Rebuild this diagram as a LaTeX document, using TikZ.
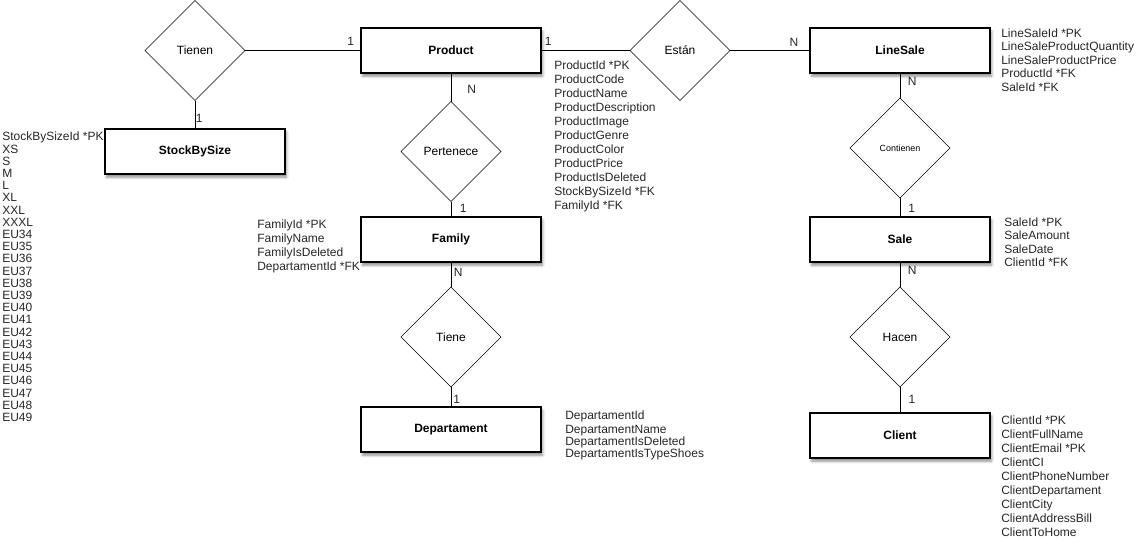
\documentclass[tikz,border=0pt]{standalone}
\usepackage{fontspec}
\setmainfont{Liberation Sans}
\usetikzlibrary{shapes.geometric,shadows.blur}

\begin{document}
\begin{tikzpicture}[x=0.75pt,y=-0.75pt,
  entity/.style={draw, line width=1pt, fill=white, minimum width=135pt,
    minimum height=33.75pt, inner sep=0pt, outer sep=0pt,
    font=\bfseries\fontsize{9}{11}\selectfont,
    blur shadow={shadow xshift=1.2pt, shadow yshift=-2.4pt,
      shadow blur radius=2pt, shadow opacity=45}},
  relation/.style={diamond, draw, line width=0.5pt, fill=white, aspect=1,
    minimum width=75pt, minimum height=75pt, inner sep=0pt, outer sep=0pt,
    font=\fontsize{9}{11}\selectfont},
  attrs/.style={anchor=north west, align=left, inner sep=0pt, text=black!85},
  link/.style={line width=0.75pt},
  card/.style={inner sep=0pt, text=black!85, font=\fontsize{9}{11}\selectfont}]

\useasboundingbox (0,0) rectangle (1141,540);

% entities
\node[entity] (product)  at (451,50.5)  {Product};
\node[entity] (stock)    at (195,151.5) {StockBySize};
\node[entity] (family)   at (451,239.5) {Family};
\node[entity] (dept)     at (451,429.5) {Departament};
\node[entity] (linesale) at (900,50.5)  {LineSale};
\node[entity] (sale)     at (900,239.5) {Sale};
\node[entity] (client)   at (900,435.5) {Client};

% relationships
\node[relation] (tienen)    at (195,50.5)  {Tienen};
\node[relation] (estan)     at (680,50.5)  {Están};
\node[relation] (pertenece) at (451,151.5) {Pertenece};
\node[relation] (tiene)     at (451,337)   {Tiene};
\node[relation, font=\fontsize{6.7}{8}\selectfont] (contienen) at (900,148) {Contienen};
\node[relation] (hacen)     at (900,337)   {Hacen};

% connectors
\draw[link] (tienen.east) -- (product.west);
\draw[link] (tienen.south) -- (stock.north);
\draw[link] (product.east) -- (estan.west);
\draw[link] (estan.east) -- (linesale.west);
\draw[link] (product.south) -- (pertenece.north);
\draw[link] (pertenece.south) -- (family.north);
\draw[link] (family.south) -- (tiene.north);
\draw[link] (tiene.south) -- (dept.north);
\draw[link] (linesale.south) -- (contienen.north);
\draw[link] (contienen.south) -- (sale.north);
\draw[link] (sale.south) -- (hacen.north);
\draw[link] (hacen.south) -- (client.north);

% cardinalities
\node[card] (c1)  at ([shift={(-10.3,-8.8)}]product.west) {1};
\node[card] (c2)  at ([shift={(4.3,-10.7)}]stock.north) {1};
\node[card] (c3)  at ([shift={(7.3,-8.8)}]product.east) {1};
\node[card] (c4)  at ([shift={(-16,-8.2)}]linesale.west) {N};
\node[card] (c5)  at ([shift={(20.7,16.3)}]product.south) {N};
\node[card] (c6)  at ([shift={(12.3,-8.7)}]family.north) {1};
\node[card] (c7)  at ([shift={(7.3,10.7)}]family.south) {N};
\node[card] (c8)  at ([shift={(5.7,-7.7)}]dept.north) {1};
\node[card] (c9)  at ([shift={(12.3,8)}]linesale.south) {N};
\node[card] (c10) at ([shift={(11.7,-8.7)}]sale.north) {1};
\node[card] (c11) at ([shift={(12.3,8.7)}]sale.south) {N};
\node[card] (c12) at ([shift={(12,-13.7)}]client.north) {1};

% attribute lists
\node[attrs, font=\fontsize{9}{10.5}\selectfont] (productattrs) at (554,61) {%
ProductId *PK\\ProductCode\\ProductName\\ProductDescription\\ProductImage\\
ProductGenre\\ProductColor\\ProductPrice\\ProductIsDeleted\\StockBySizeId *FK\\FamilyId *FK};

\node[attrs, font=\fontsize{9}{10.1}\selectfont] (linesaleattrs) at (1001,28.5) {%
LineSaleId *PK\\LineSaleProductQuantity\\LineSaleProductPrice\\ProductId *FK\\SaleId *FK};

\node[attrs, font=\fontsize{9}{10}\selectfont] (saleattrs) at (1004,217.5) {%
SaleId *PK\\SaleAmount\\SaleDate\\ClientId *FK};

\node[attrs, font=\fontsize{9}{10.5}\selectfont] (clientattrs) at (1001,415.5) {%
ClientId *PK\\ClientFullName\\ClientEmail *PK\\ClientCI\\ClientPhoneNumber\\
ClientDepartament\\ClientCity\\ClientAddressBill\\ClientToHome};

\node[attrs, font=\fontsize{9}{10.5}\selectfont] (familyattrs) at (257,219.5) {%
FamilyId *PK\\FamilyName\\FamilyIsDeleted\\DepartamentId *FK};

\node[attrs, font=\fontsize{9}{9}\selectfont] (deptattrs) at (565,410.5) {%
DepartamentId\\[1.5pt]DepartamentName\\DepartamentIsDeleted\\DepartamentIsTypeShoes};

\node[attrs, font=\fontsize{9}{9.15}\selectfont] (stockattrs) at (2,132) {%
StockBySizeId *PK\\XS\\S\\M\\L\\XL\\XXL\\XXXL\\EU34\\EU35\\EU36\\EU37\\EU38\\EU39\\
EU40\\EU41\\EU42\\EU43\\EU44\\EU45\\EU46\\EU47\\EU48\\EU49};

\end{tikzpicture}
\end{document}
